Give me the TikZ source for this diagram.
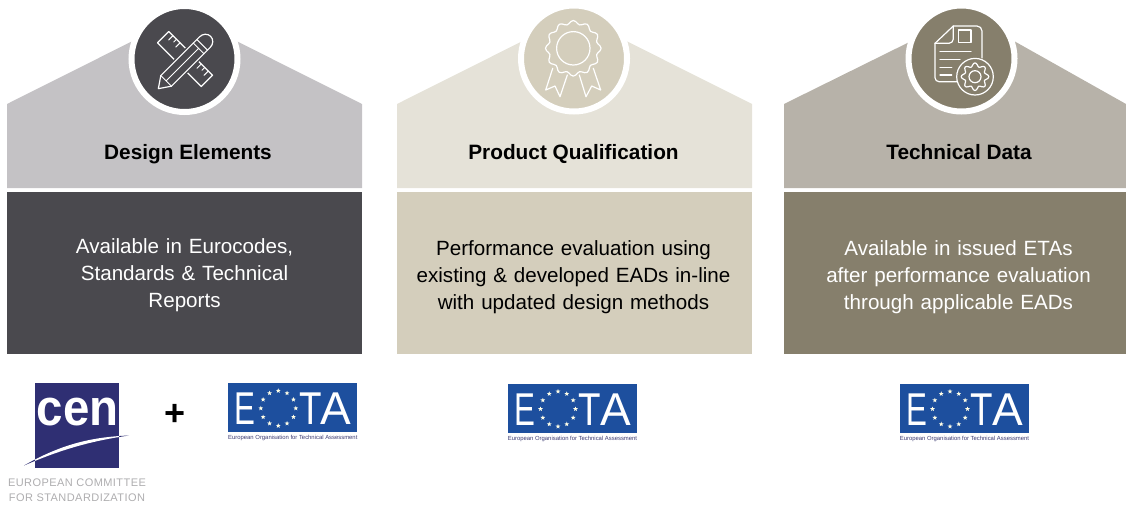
\documentclass[tikz,border=0pt]{standalone}
\usepackage{fontspec}
\setmainfont{Liberation Sans}
\newfontfamily\capfont[LetterSpace=4]{Liberation Sans}
\usetikzlibrary{shapes.geometric}
\definecolor{greyA}{HTML}{C4C2C5}
\definecolor{darkA}{HTML}{4A494E}
\definecolor{creamA}{HTML}{E5E2D8}
\definecolor{creamB}{HTML}{D4CEBC}
\definecolor{taupeA}{HTML}{B7B2A9}
\definecolor{taupeB}{HTML}{867F6C}
\definecolor{eotablue}{HTML}{1D4F9E}
\definecolor{cenblue}{HTML}{2F2F73}
\tikzset{x=1pt,y=-1pt,
 titletext/.style={font=\fontsize{20.8}{23}\selectfont\bfseries,text=black,anchor=base},
 bodytext/.style={font=\fontsize{20.6}{27}\selectfont,align=center,text width=340pt,anchor=center},
 icon/.style={draw=white,line width=1.2pt,line join=round,line cap=round,fill=none},
 badge/.style={circle,draw=white,line width=6pt,minimum size=106pt,inner sep=0pt},
 logoletter/.style={font=\fontsize{46}{46}\selectfont,text=white,anchor=base,inner sep=0pt},
 pict/.pic={
  \fill[eotablue] (0,0) rectangle (129,48.5);
  \node[logoletter,xscale=.68] (e) at (17,41.5) {E};
  \node[logoletter,xscale=.8] (t) at (82,41.5) {T};
  \node[logoletter] (a) at (107.5,41.5) {A};
  \foreach \a in {0,30,...,330}
    \node[star,star points=5,star point ratio=2.4,fill=white!90!yellow,inner sep=0pt,minimum size=5pt] (s\a) at ({50+17.5*cos(\a)},{25+17.5*sin(\a)}) {};
  \node[font=\fontsize{5.9}{6}\selectfont,text=darkA!80!blue,anchor=base] (cap) at (64.5,56.5) {European Organisation for Technical Assessment};
 }}
\begin{document}
\begin{tikzpicture}
\useasboundingbox (0,0) rectangle (1126,504);
% column 1
\fill[greyA] (7,104) -- (184.5,15) -- (362,104) -- (362,188) -- (7,188) -- cycle;
\fill[darkA] (7,192) rectangle (362,354);
\node[badge,fill=darkA] (b1) at (184.5,59) {};
\node[titletext] (t1) at (188,159) {Design Elements};
\node[bodytext,text=white] (x1) at (184.5,275.5) {Available in Eurocodes,\\Standards \& Technical\\Reports};
% column 2
\fill[creamA] (397,104) -- (574.5,15) -- (752,104) -- (752,188) -- (397,188) -- cycle;
\fill[creamB] (397,192) rectangle (752,354);
\node[badge,fill=creamB] (b2) at (574,58.5) {};
\node[titletext] (t2) at (573.5,159) {Product Qualification};
\node[bodytext,text=black] (x2) at (573.5,277.5) {Performance evaluation using\\existing \& developed EADs in-line\\with updated design methods};
% column 3
\fill[taupeA] (784,104) -- (966,14) -- (1126,104) -- (1126,188) -- (784,188) -- cycle;
\fill[taupeB] (784,192) rectangle (1126,354);
\node[badge,fill=taupeB] (b3) at (961.5,58.5) {};
\node[titletext] (t3) at (959,159) {Technical Data};
\node[bodytext,text=white] (x3) at (958.5,277.5) {Available in issued ETAs\\after performance evaluation\\through applicable EADs};
% icon 1: ruler and pencil
\begin{scope}[shift={(185,59)},rotate=-45]
  \draw[icon] (-31,-8) rectangle (31,8);
  \foreach \p/\l in {-25/6,-20/4,-15/6,15/6,20/4,25/6} \draw[icon,line width=1pt] (\p,-8) -- (\p,-8+\l);
\end{scope}
\begin{scope}[shift={(184.5,62.5)},rotate=45]
  \fill[darkA] (-37,-9.5) rectangle (37,9.5);
  \draw[icon] (-37,0) -- (-26,-7.5) -- (29,-7.5) arc (-90:90:8 and 7.5) -- (-26,7.5) -- cycle;
  \draw[icon,line width=1pt] (-26,-7.5) -- (-26,7.5) (-26,0) -- (20,0) (20,-7.5) -- (20,7.5) (25,-7.5) -- (25,7.5);
\end{scope}
% icon 2: rosette
\draw[icon] plot[smooth cycle,samples=72,domain=0:355] ({573.3+(26+1.8*cos(12*\x))*cos(\x)},{48.3+(26+1.8*cos(12*\x))*sin(\x)});
\draw[icon] (573.3,48.3) circle (16.7);
\draw[icon] (552.7,68.3) -- (545.7,90) -- (555,86) -- (560,96.7) -- (567.3,75);
\draw[icon] (593.3,68.3) -- (600.7,90) -- (591.7,86) -- (586,96.7) -- (579.3,75);
% icon 3: document and gear
\draw[icon] (956.7,81.7) -- (939,81.7) arc (90:180:4) -- (935,43.3) -- (953.3,26) -- (977,26) arc (-90:0:5) -- (982,58);
\draw[icon] (935,43.3) -- (949,43.3) arc (90:0:4.3) -- (953.3,26);
\draw[icon] (958.3,30) rectangle (971,42.7);
\draw[icon] (940,51.7) -- (971,51.7) (940,59.3) -- (960,59.3) (940,67.3) -- (951.7,67.3) (940,75) -- (951.7,75);
\draw[icon] (975,76.7) circle (18.3);
\draw[icon] plot[smooth cycle,samples=64,domain=0:354] ({975+(12+1.8*cos(8*\x))*cos(\x)},{76.7+(12+1.8*cos(8*\x))*sin(\x)});
\draw[icon] (975,76.7) circle (6);
% logos
\fill[cenblue] (24,465.5) .. controls (60,445) and (90,437) .. (129,435.5) .. controls (90,441) and (60,450) .. (24,465.5) -- cycle;
\fill[cenblue] (35,383) rectangle (119,467.7);
\node[font=\fontsize{51}{51}\selectfont\bfseries,text=white,anchor=base,inner sep=0pt,xscale=.93] (cen) at (77.5,425) {cen};
\begin{scope}
 \clip (35,383) rectangle (119,467.7);
 \fill[white] (24,465.5) .. controls (60,445) and (90,437) .. (129,435.5) .. controls (90,441) and (60,450) .. (24,465.5) -- cycle;
\end{scope}
\node[font=\capfont\fontsize{11}{13}\selectfont,text=darkA!45!white,anchor=base] (c1) at (77,486.7) {EUROPEAN COMMITTEE};
\node[font=\capfont\fontsize{11}{13}\selectfont,text=darkA!45!white,anchor=base] (c2) at (77,501.7) {FOR STANDARDIZATION};
\node[font=\fontsize{36}{36}\selectfont\bfseries,text=black] (plus) at (175,415) {+};
\pic (e1) at (228.3,383.3) {pict};
\pic (e2) at (508,384) {pict};
\pic (e3) at (900,384) {pict};
\end{tikzpicture}
\end{document}
